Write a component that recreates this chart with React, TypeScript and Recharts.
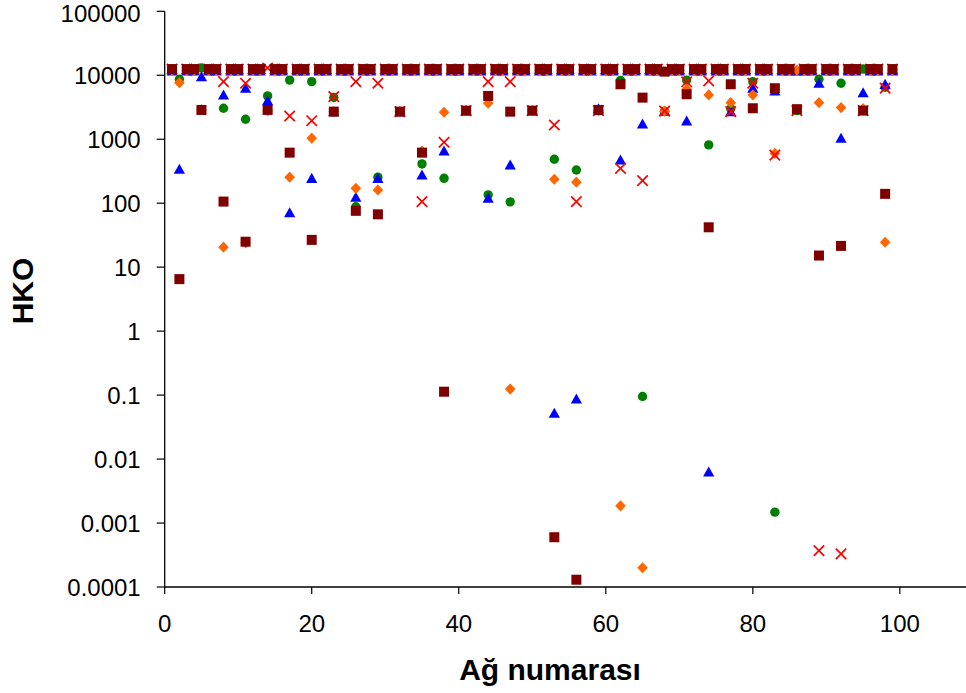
import React from 'react';
import { ScatterChart, Scatter, XAxis, YAxis } from 'recharts';

// Network numbers (x)
const netNo = [
  1, 2, 3, 4, 5, 6, 7, 8, 9, 10, 11, 12, 13, 14, 15, 16, 17, 18, 19, 20,
  21, 22, 23, 24, 25, 26, 27, 28, 29, 30, 31, 32, 33, 34, 35, 36, 37, 38, 39, 40,
  41, 42, 43, 44, 45, 46, 47, 48, 49, 50, 51, 52, 53, 54, 55, 56, 57, 58, 59, 60,
  61, 62, 63, 64, 65, 66, 67, 68, 69, 70, 71, 72, 73, 74, 75, 76, 77, 78, 79, 80,
  81, 82, 83, 84, 85, 86, 87, 88, 89, 90, 91, 92, 93, 94, 95, 96, 97, 98, 99,
];

// HKO values, one per network number
const greenVals = [
  12500, 8650, 12500, 12500, 13000, 12500, 12500, 3050, 12500, 12500, 2050, 12500,
  12500, 4750, 12500, 12500, 8400, 12500, 12500, 7940, 12500, 12500, 4500, 12500,
  12500, 88, 12500, 12500, 255, 12500, 12500, 2700, 12500, 12500, 411, 12500,
  12500, 245, 12500, 12500, 2800, 12500, 12500, 135, 12500, 12500, 105, 12500,
  12500, 2800, 12500, 12500, 486, 12500, 12500, 330, 12500, 12500, 2800, 12500,
  12500, 8300, 12500, 12500, 0.095, 12500, 12500, 2750, 12500, 12500, 8400, 12500,
  12500, 815, 12500, 12500, 3000, 12500, 12500, 7940, 12500, 12500, 0.00148, 12500,
  12500, 2800, 12500, 12500, 8650, 12500, 12500, 7500, 12500, 12500, 12500, 12500,
  12500, 6500, 12500,
];

const blueVals = [
  11700, 340, 11700, 11700, 9500, 11700, 11700, 4920, 11700, 11700, 6270, 11700,
  11700, 4000, 11700, 11700, 71, 11700, 11700, 245, 11700, 11700, 2700, 11700,
  11700, 124, 11700, 11700, 245, 11700, 11700, 2700, 11700, 11700, 277, 11700,
  11700, 656, 11700, 11700, 2800, 11700, 11700, 120, 11700, 11700, 396, 11700,
  11700, 2800, 11700, 11700, 0.052, 11700, 11700, 0.087, 11700, 11700, 3000, 11700,
  11700, 475, 11700, 11700, 1730, 11700, 11700, 2750, 11700, 11700, 1930, 11700,
  11700, 0.0063, 11700, 11700, 2700, 11700, 11700, 6270, 11700, 11700, 5700, 11700,
  11700, 11700, 11700, 11700, 7500, 11700, 11700, 1040, 11700, 11700, 5350, 11700,
  11700, 7230, 11700,
];

const orangeVals = [
  12000, 7650, 12000, 12000, 2900, 12000, 12000, 20.5, 12000, 12000, 24, 12000,
  12000, 2800, 12000, 12000, 255, 12000, 12000, 1040, 12000, 12000, 2700, 12000,
  12000, 171, 12000, 12000, 161, 12000, 12000, 2700, 12000, 12000, 650, 12000,
  12000, 2640, 12000, 12000, 2800, 12000, 12000, 3650, 12000, 12000, 0.124, 12000,
  12000, 2800, 12000, 12000, 237, 12000, 12000, 213, 12000, 12000, 2800, 12000,
  12000, 0.00186, 12000, 12000, 0.0002, 12000, 12000, 2750, 12000, 12000, 6030, 12000,
  12000, 4920, 12000, 12000, 3730, 12000, 12000, 4920, 12000, 12000, 600, 12000,
  12000, 12000, 12000, 12000, 3730, 12000, 12000, 3120, 12000, 12000, 3000, 12000,
  12000, 24.5, 12000,
];

const redVals: (number | null)[] = [
  12500, null, 12500, 12500, null, 12500, 12500, 7940, 12500, 12500, 7500, 12500,
  12500, 13000, 12500, 12500, 2310, 12500, 12500, 1950, 12500, 12500, 4640, 12500,
  12500, 7940, 12500, 12500, 7500, 12500, 12500, 2700, 12500, 12500, 106, 12500,
  12500, 897, 12500, 12500, 2800, 12500, 12500, 7940, 12500, 12500, 7940, 12500,
  12500, 2800, 12500, 12500, 1670, 12500, 12500, 106, 12500, 12500, 2800, 12500,
  12500, 350, 12500, 12500, 225, 12500, 12500, 2750, 12500, 12500, 7900, 12500,
  12500, 8170, 12500, 12500, 2700, 12500, 12500, 7500, 12500, 12500, 565, 12500,
  12500, 2800, 12500, 12500, 0.00037, 12500, 12500, 0.00033, 12500, 12500, 2800, 12500,
  12500, 6300, 12500,
];

const maroonVals = [
  12500, 6.5, 12500, 12500, 2870, 12500, 12500, 106, 12500, 12500, 25, 12500,
  12500, 2870, 12500, 12500, 617, 12500, 12500, 26.7, 12500, 12500, 2700, 12500,
  12500, 76, 12500, 12500, 67, 12500, 12500, 2700, 12500, 12500, 617, 12500,
  12500, 0.113, 12500, 12500, 2800, 12500, 12500, 4750, 12500, 12500, 2700, 12500,
  12500, 2800, 12500, 12500, 0.0006, 12500, 12500, 0.00013, 12500, 12500, 2870, 12500,
  12500, 7230, 12500, 12500, 4470, 12500, 12500, 11400, 12500, 12500, 5050, 12500,
  12500, 42, 12500, 12500, 7230, 12500, 12500, 3050, 12500, 12500, 6270, 12500,
  12500, 2950, 12500, 12500, 15.2, 12500, 12500, 21.5, 12500, 12500, 2800, 12500,
  12500, 140, 12500,
];

const xTicks = [0, 20, 40, 60, 80, 100];
const yTicks = [0.0001, 0.001, 0.01, 0.1, 1, 10, 100, 1000, 10000, 100000];

const toPoints = (vals: (number | null)[]) =>
  netNo
    .map((x, i) => ({ x, y: vals[i] }))
    .filter((p) => p.y !== null && p.y !== undefined);

const FONT = '"Liberation Sans", Arial, Helvetica, sans-serif';

const CircleShape = (p: any) => <circle cx={p.cx} cy={p.cy} r={4.7} fill="#008000" />;
const TriangleShape = (p: any) => (
  <polygon
    points={`${p.cx},${p.cy - 5.5} ${p.cx + 5.6},${p.cy + 4.6} ${p.cx - 5.6},${p.cy + 4.6}`}
    fill="#0000FF"
  />
);
const DiamondShape = (p: any) => (
  <polygon
    points={`${p.cx},${p.cy - 5.6} ${p.cx + 5.3},${p.cy} ${p.cx},${p.cy + 5.6} ${p.cx - 5.3},${p.cy}`}
    fill="#FF6600"
  />
);
const XShape = (p: any) => (
  <path
    d={`M${p.cx - 5.2},${p.cy - 5.2}L${p.cx + 5.2},${p.cy + 5.2}M${p.cx + 5.2},${p.cy - 5.2}L${p.cx - 5.2},${p.cy + 5.2}`}
    stroke="#FF0000"
    strokeWidth={1.7}
    fill="none"
  />
);
const SquareShape = (p: any) => (
  <rect x={p.cx - 5} y={p.cy - 5} width={10} height={10} fill="#800000" />
);

export default function App() {
  return (
    <div style={{ width: 966, height: 693, background: '#fff' }}>
      <style>{'body{margin:0;overflow:hidden;}'}</style>
      <ScatterChart
        width={966}
        height={693}
        margin={{ top: 11.3, right: 0, bottom: 0, left: 0 }}
      >
        <XAxis
          type="number"
          dataKey="x"
          domain={[0, 109]}
          ticks={xTicks}
          allowDataOverflow
          height={106}
          tickSize={7}
          tickMargin={21}
          axisLine={{ stroke: '#000', strokeWidth: 1.3 }}
          tickLine={{ stroke: '#000', strokeWidth: 1.2 }}
          tick={{ fill: '#000', fontSize: 24, fontFamily: FONT }}
          label={{
            content: () => (
              <text
                x={550}
                y={680}
                textAnchor="middle"
                fontFamily={FONT}
                fontWeight="bold"
                fontSize={30}
                fill="#000"
              >
                Ağ numarası
              </text>
            ),
          }}
        />
        <YAxis
          type="number"
          dataKey="y"
          scale="log"
          domain={[0.0001, 100000]}
          ticks={yTicks}
          allowDataOverflow
          width={164.7}
          tickSize={8}
          tickMargin={16}
          tickFormatter={(v: number) => String(v)}
          axisLine={{ stroke: '#000', strokeWidth: 1.3 }}
          tickLine={{ stroke: '#000', strokeWidth: 1.2 }}
          tick={{ fill: '#000', fontSize: 24, fontFamily: FONT }}
          label={{
            content: () => (
              <text
                x={33}
                y={291}
                transform="rotate(-90 33 291)"
                textAnchor="middle"
                fontFamily={FONT}
                fontWeight="bold"
                fontSize={30}
                fill="#000"
              >
                HKO
              </text>
            ),
          }}
        />
        <Scatter data={toPoints(greenVals)} shape={CircleShape} isAnimationActive={false} />
        <Scatter data={toPoints(blueVals)} shape={TriangleShape} isAnimationActive={false} />
        <Scatter data={toPoints(orangeVals)} shape={DiamondShape} isAnimationActive={false} />
        <Scatter data={toPoints(redVals)} shape={XShape} isAnimationActive={false} />
        <Scatter data={toPoints(maroonVals)} shape={SquareShape} isAnimationActive={false} />
      </ScatterChart>
    </div>
  );
}
